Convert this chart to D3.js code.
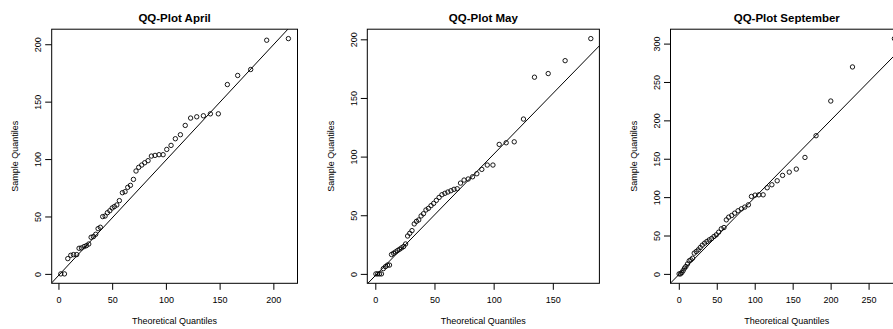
<!DOCTYPE html>
<html>
<head>
<meta charset="utf-8">
<script src="https://cdn.jsdelivr.net/npm/d3@7"></script>
<style>
  html, body { margin: 0; padding: 0; background: #fff; }
  svg { display: block; font-family: "Liberation Sans", Arial, Helvetica, sans-serif; }
</style>
</head>
<body>
<svg id="chart" width="893" height="329"></svg>
<script>
// ---------- data ----------
const panelTitles = ["QQ-Plot April", "QQ-Plot May", "QQ-Plot September"];
const xAxisTitle = "Theoretical Quantiles";
const yAxisTitle = "Sample Quantiles";

const aprTheoretical = [2.2, 5.6, 8.7, 11.5, 14, 17, 19.2, 21.4, 23.9, 26, 28.2, 30.4, 32.6, 34.7, 36.9, 39, 41.2, 43.4, 45.6, 47.8, 50, 52, 54.3, 56.7, 59.5, 62, 64.5, 67, 69.8, 72.2, 74.7, 77.5, 80.3, 83.4, 86.5, 89.9, 93.6, 97.4, 100.8, 104.8, 108.8, 113.5, 118, 123, 128.7, 134.9, 141.4, 148.8, 157.2, 166.8, 178.9, 193.8, 214];
const aprSample = [0, 0, 13.3, 16.2, 16.8, 16.8, 22.3, 22.6, 23.8, 24.6, 26, 31.9, 32.5, 34.5, 39.4, 40.6, 49.9, 50.4, 53.3, 55, 57.4, 58.6, 60, 63.8, 70.7, 71.6, 75.4, 77.1, 82.3, 89.6, 92.8, 94.8, 96.8, 98.6, 102.6, 103.2, 103.8, 103.8, 108.4, 111.9, 117.7, 121.2, 129.3, 135.7, 136.8, 137.7, 139.4, 139.4, 164.9, 172.8, 178, 203.5, 204.9];

const mayTheoretical = [0.5, 2, 3.6, 5.2, 6.8, 8.6, 10.3, 12, 13.7, 15.4, 17.1, 18.8, 20.5, 22.2, 23.9, 25.6, 27.3, 29.1, 31, 32.9, 34.8, 36.7, 38.7, 40.7, 42.8, 44.9, 47.1, 49.3, 51.6, 53.9, 56.3, 58.8, 61.3, 63.9, 66.5, 69.2, 72, 75, 78.5, 82.2, 85.8, 90, 94.6, 99.4, 104.7, 110.6, 117.4, 125.2, 134.5, 146.1, 160.4, 182.1];
const maySample = [0, 0, 0, 0, 4.5, 6.2, 7.5, 7.5, 16.5, 17.6, 18.7, 19.9, 21, 22.2, 23.3, 25.5, 32.3, 34.6, 36.9, 42.6, 44.8, 46, 49.4, 51.3, 54.5, 55.9, 58.2, 60.1, 62.7, 65.2, 67.5, 68.7, 69.8, 70.9, 72.1, 72.6, 77.4, 80, 80.9, 82.8, 85.4, 89.1, 92.8, 92.8, 110.4, 111.8, 112.6, 132, 167.7, 170.8, 181.8, 200.6];

const sepTheoretical = [0.4, 2.2, 4, 5.7, 7.5, 9.3, 11.5, 13.7, 15.9, 18.1, 20.3, 23, 25.6, 28.2, 30.9, 34, 37, 40.1, 43.2, 46.3, 49.4, 52.5, 56, 59.5, 62.6, 65.7, 69.7, 73.6, 78, 82.5, 86.9, 91.7, 95.7, 100.5, 105.4, 111.1, 116.4, 122.6, 129.6, 136.7, 145.5, 154.8, 166.2, 180.8, 200.2, 228.8, 284];
const sepSample = [0, 0, 1.7, 4.3, 7.4, 9.6, 13, 17, 18.3, 20.4, 27, 29.1, 31.3, 34.3, 37.4, 40, 42.2, 44.3, 46.1, 48.7, 50.9, 54.3, 58.7, 60.4, 70.4, 73.9, 76.1, 79.1, 82.2, 84.8, 87, 90, 100.9, 102.6, 103, 103, 112.2, 116.1, 121.3, 128.3, 132.6, 136.5, 151.7, 180, 225.2, 269.6, 306.5];

// reference line (qqline) intercept / slope per panel
const lineIntercepts = [-1.5, -1.5, -1];
const lineSlopes = [1.005, 1.035, 1.005];

const xTicks = [[0, 50, 100, 150, 200], [0, 50, 100, 150], [0, 50, 100, 150, 200, 250]];
const yTicks = [[0, 50, 100, 150, 200], [0, 50, 100, 150, 200], [0, 50, 100, 150, 200, 250, 300]];

// ---------- layout ----------
const boxes = [
  { left: 51.7, right: 297.5 },
  { left: 367.3, right: 599.4 },
  { left: 670.5, right: 903 }
];
const boxTop = 29.2, boxBottom = 283.3;

const panels = [
  { x: aprTheoretical, y: aprSample },
  { x: mayTheoretical, y: maySample },
  { x: sepTheoretical, y: sepSample }
];

const svg = d3.select("#chart");

function padded(ext) {
  const r = ext[1] - ext[0];
  return [ext[0] - 0.04 * r, ext[1] + 0.04 * r];
}

panels.forEach((p, i) => {
  const b = boxes[i];
  const xs = d3.scaleLinear().domain(padded(d3.extent(p.x))).range([b.left, b.right]);
  const ys = d3.scaleLinear().domain(padded(d3.extent(p.y))).range([boxBottom, boxTop]);
  const g = svg.append("g");

  const clipId = "clip" + i;
  g.append("clipPath").attr("id", clipId)
    .append("rect").attr("x", b.left).attr("y", boxTop)
    .attr("width", b.right - b.left).attr("height", boxBottom - boxTop);

  // qq line
  const xd = xs.domain();
  const a = lineIntercepts[i], s = lineSlopes[i];
  g.append("line")
    .attr("clip-path", `url(#${clipId})`)
    .attr("x1", xs(xd[0] - 50)).attr("y1", ys(a + s * (xd[0] - 50)))
    .attr("x2", xs(xd[1] + 50)).attr("y2", ys(a + s * (xd[1] + 50)))
    .attr("stroke", "#000").attr("stroke-width", 1);

  // points
  g.append("g").selectAll("circle")
    .data(d3.range(p.x.length))
    .join("circle")
    .attr("cx", k => xs(p.x[k]))
    .attr("cy", k => ys(p.y[k]))
    .attr("r", 2.2)
    .attr("fill", "none")
    .attr("stroke", "#000")
    .attr("stroke-width", 0.9);

  // box
  g.append("rect")
    .attr("x", b.left).attr("y", boxTop)
    .attr("width", b.right - b.left).attr("height", boxBottom - boxTop)
    .attr("fill", "none").attr("stroke", "#000").attr("stroke-width", 1);

  // x axis
  const xa = g.append("g").attr("transform", `translate(0,${boxBottom})`)
    .call(d3.axisBottom(xs).tickValues(xTicks[i]).tickSize(6.5).tickFormat(d3.format("d")));
  xa.select(".domain").remove();
  xa.selectAll("line").attr("stroke", "#000");
  xa.selectAll("text").attr("y", 20).attr("dy", 0)
    .attr("font-size", 9).attr("fill", "#000")
    .attr("font-family", "Liberation Sans, Arial, sans-serif");

  // y axis
  const ya = g.append("g").attr("transform", `translate(${b.left},0)`)
    .call(d3.axisLeft(ys).tickValues(yTicks[i]).tickSize(6.5).tickFormat(d3.format("d")));
  ya.select(".domain").remove();
  ya.selectAll("line").attr("stroke", "#000");
  ya.selectAll("text")
    .attr("transform", "rotate(-90)")
    .attr("x", 0).attr("y", -10.5).attr("dy", 0)
    .attr("text-anchor", "middle")
    .attr("font-size", 9).attr("fill", "#000")
    .attr("font-family", "Liberation Sans, Arial, sans-serif");

  // titles
  const cx = (b.left + b.right) / 2;
  g.append("text")
    .attr("x", cx).attr("y", 21.5)
    .attr("text-anchor", "middle")
    .attr("font-size", 11.5).attr("font-weight", "bold")
    .text(panelTitles[i]);

  g.append("text")
    .attr("x", cx).attr("y", 324.3)
    .attr("text-anchor", "middle")
    .attr("font-size", 9)
    .text(xAxisTitle);

  const cy = (boxTop + boxBottom) / 2;
  g.append("text")
    .attr("transform", `translate(${b.left - 33.7},${cy}) rotate(-90)`)
    .attr("text-anchor", "middle")
    .attr("font-size", 9)
    .text(yAxisTitle);
});
</script>
</body>
</html>
